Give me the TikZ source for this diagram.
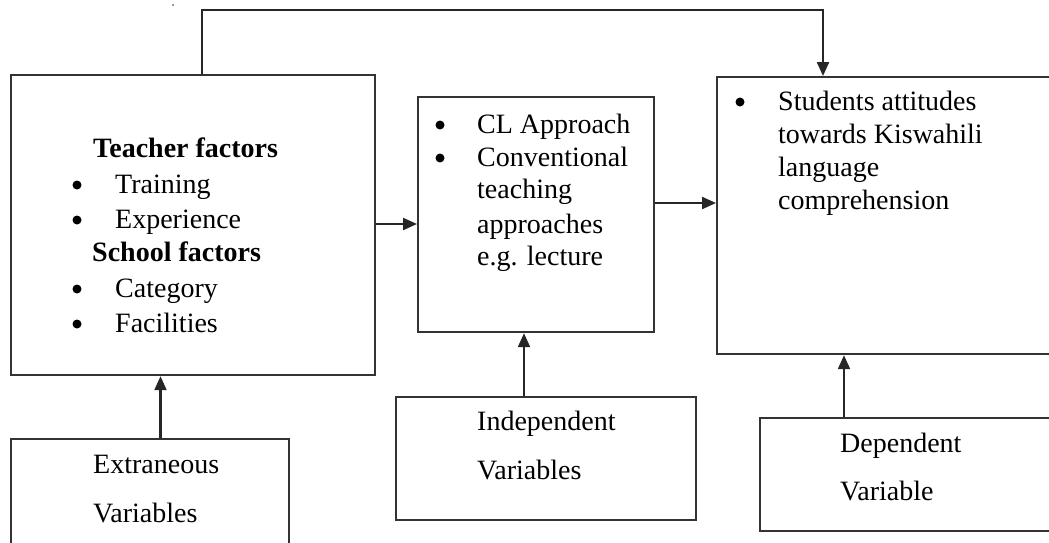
\documentclass[tikz,border=0pt]{standalone}
\usepackage{fontspec}
\setmainfont{Liberation Serif}
\usetikzlibrary{arrows.meta}
\begin{document}
\begin{tikzpicture}[x=1pt,y=-1pt,
  box/.style={draw=black!80,line width=2.2pt,inner sep=0pt,anchor=north west},
  txt/.style={anchor=base west,inner sep=0pt,font=\fontsize{28}{33}\selectfont},
  bul/.style={circle,fill=black,inner sep=0pt,minimum size=9pt},
  arr/.style={draw=black!85,line width=2.2pt,-{Triangle[length=14pt,width=12pt]}}]
\useasboundingbox (0,0) rectangle (1049,542);
% boxes
\node[box,minimum width=364pt,minimum height=300pt] (A) at (10,74) {};
\node[box,minimum width=236pt,minimum height=235pt] (B) at (417,96) {};
\node[box,minimum width=360pt,minimum height=277pt] (C) at (716,76) {};
\node[box,minimum width=278pt,minimum height=130pt] (E) at (10,438) {};
\node[box,minimum width=300pt,minimum height=123pt] (I) at (395,396) {};
\node[box,minimum width=320pt,minimum height=113pt] (D) at (759,417) {};
% stray dot
\fill[black!80] (173,5) circle (0.8pt);
% box A text
\node[txt,font=\fontsize{28}{33}\selectfont\bfseries] (a1) at (93,157) {Teacher factors};
\node[bul] (ab1) at (77,185) {};
\node[txt] (a2) at (115,193) {Training};
\node[bul] (ab2) at (77,220) {};
\node[txt] (a3) at (115,228) {Experience};
\node[txt,font=\fontsize{28}{33}\selectfont\bfseries] (a4) at (92,261) {School factors};
\node[bul] (ab3) at (77,289) {};
\node[txt] (a5) at (115,297) {Category};
\node[bul] (ab4) at (77,324) {};
\node[txt] (a6) at (115,332) {Facilities};
% box B text
\node[bul] (bb1) at (440,125) {};
\node[txt] (b1) at (477,133) {CL Approach};
\node[bul] (bb2) at (440,158) {};
\node[txt] (b2) at (477,166) {Conventional};
\node[txt] (b3) at (477,198) {teaching};
\node[txt] (b4) at (477,233) {approaches};
\node[txt] (b5) at (477,265) {e.g. lecture};
% box C text
\node[bul] (cb1) at (740,102) {};
\node[txt] (c1) at (778,110) {Students attitudes};
\node[txt] (c2) at (778,143) {towards Kiswahili};
\node[txt] (c3) at (778,176) {language};
\node[txt] (c4) at (778,209) {comprehension};
% bottom boxes text
\node[txt] (e1) at (93,473) {Extraneous};
\node[txt] (e2) at (93,522) {Variables};
\node[txt] (i1) at (477,430) {Independent};
\node[txt] (i2) at (477,479) {Variables};
\node[txt] (d1) at (840,452) {Dependent};
\node[txt] (d2) at (840,500) {Variable};
% connectors
\draw[arr] (A.east |- 0,224) -- (B.west |- 0,224);
\draw[arr] (B.east |- 0,203) -- (C.west |- 0,203);
\draw[arr] ([xshift=192pt]A.north west) -- ++(0,-64) -| ([xshift=107pt]C.north west);
\draw[arr] ([xshift=150.5pt]E.north west) -- ([xshift=150.5pt]A.south west);
\draw[arr] ([xshift=129pt]I.north west) -- ([xshift=107pt]B.south west);
\draw[arr] ([xshift=85pt]D.north west) -- ([xshift=128pt]C.south west);
\end{tikzpicture}
\end{document}
